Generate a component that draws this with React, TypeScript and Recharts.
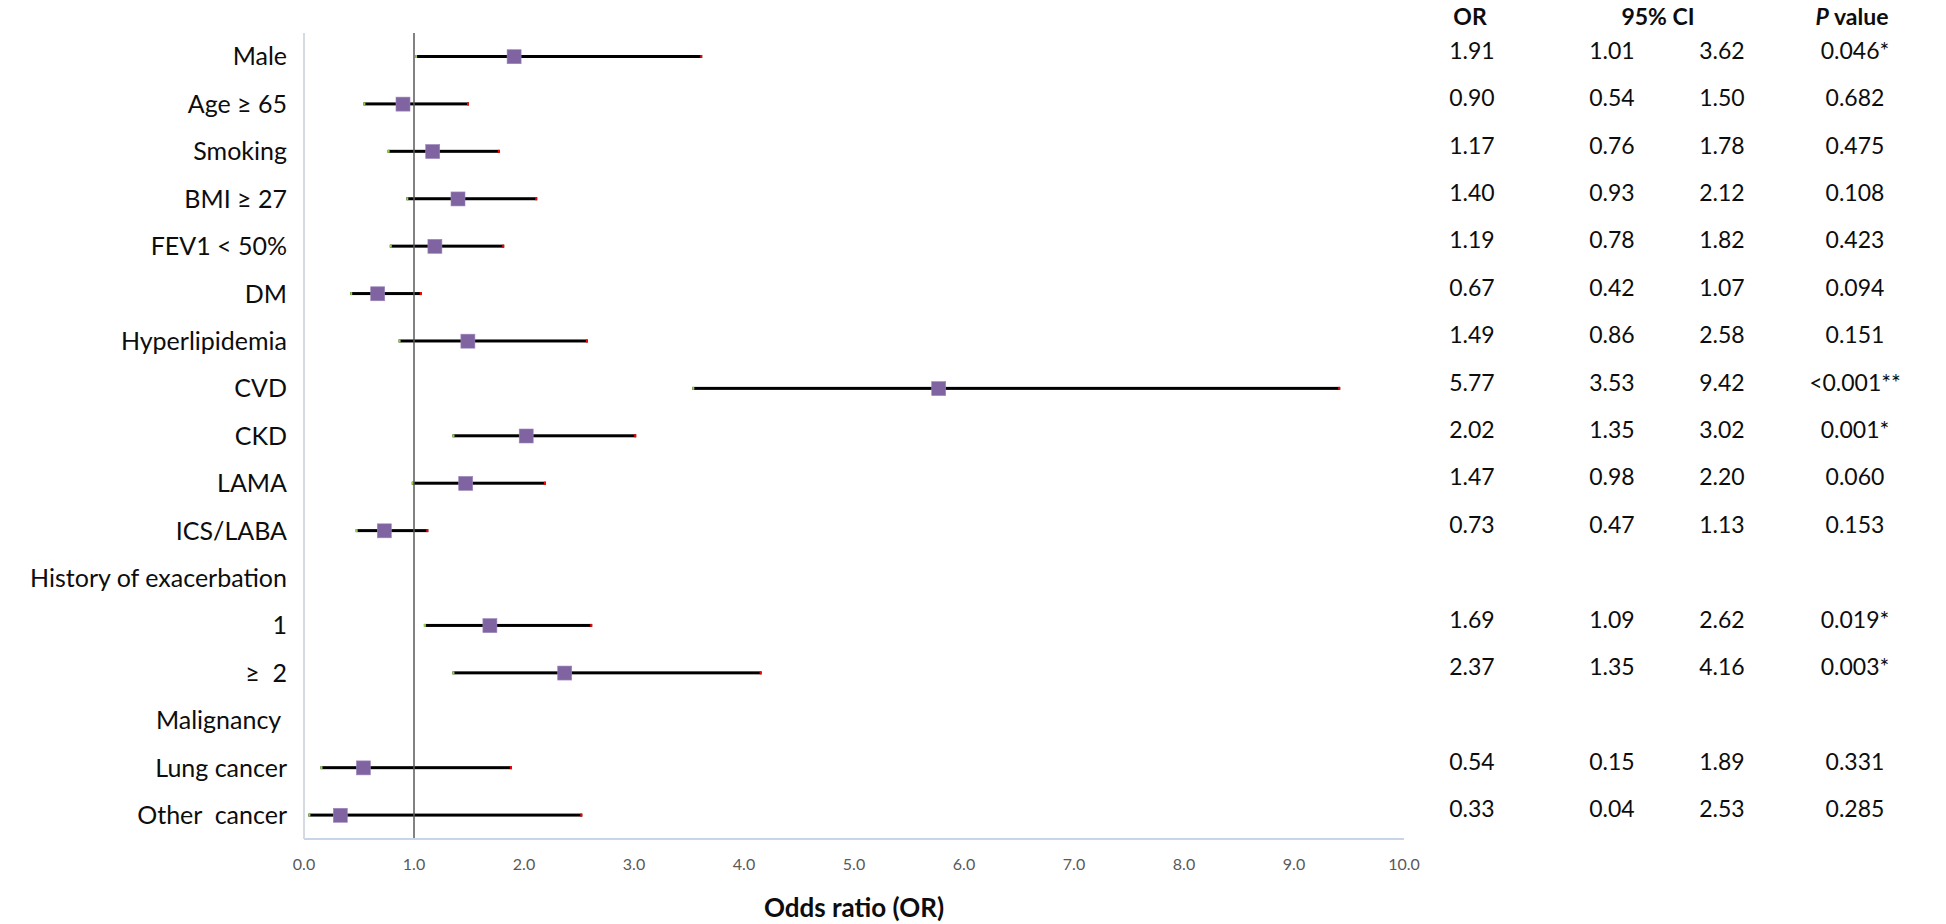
import React from "react";
import { Bar, ComposedChart, ReferenceLine, Scatter, XAxis, YAxis } from "recharts";

const FACTORS = [
  "Male",
  "Age ≥ 65",
  "Smoking",
  "BMI ≥ 27",
  "FEV1 < 50%",
  "DM",
  "Hyperlipidemia",
  "CVD",
  "CKD",
  "LAMA",
  "ICS/LABA",
  "History of exacerbation",
  "1",
  "≥  2",
  "Malignancy ",
  "Lung cancer",
  "Other  cancer",
];

const ODDS = [1.91, 0.9, 1.17, 1.4, 1.19, 0.67, 1.49, 5.77, 2.02, 1.47, 0.73, null, 1.69, 2.37, null, 0.54, 0.33];
const CI_LOW = [1.01, 0.54, 0.76, 0.93, 0.78, 0.42, 0.86, 3.53, 1.35, 0.98, 0.47, null, 1.09, 1.35, null, 0.15, 0.04];
const CI_HIGH = [3.62, 1.5, 1.78, 2.12, 1.82, 1.07, 2.58, 9.42, 3.02, 2.2, 1.13, null, 2.62, 4.16, null, 1.89, 2.53];
const P_VALUES = ["0.046*", "0.682", "0.475", "0.108", "0.423", "0.094", "0.151", "<0.001**", "0.001*", "0.060", "0.153", "", "0.019*", "0.003*", "", "0.331", "0.285"];

const X_TICKS = [0, 1, 2, 3, 4, 5, 6, 7, 8, 9, 10];

const FONT = "Lato, 'Open Sans', sans-serif";
const PURPLE = "#8064a2";

type Row = {
  name: string;
  or: number | null;
  ci: [number, number] | null;
  lo: number | null;
  hi: number | null;
  p: string;
};

const rows: Row[] = FACTORS.map((name, i) => ({
  name,
  or: ODDS[i],
  ci: CI_LOW[i] == null || CI_HIGH[i] == null ? null : [CI_LOW[i] as number, CI_HIGH[i] as number],
  lo: CI_LOW[i],
  hi: CI_HIGH[i],
  p: P_VALUES[i],
}));

function FactorTick({ x, y, payload }: any) {
  return (
    <text
      x={x}
      y={y}
      dy="0.35em"
      textAnchor="end"
      fontFamily={FONT}
      fontSize={25}
      fill="#0d0d0d"
      style={{ whiteSpace: "pre" }}
    >
      {payload.value}
    </text>
  );
}

// right-hand table, one row per category tick
function TableTick({ x, y, payload }: any) {
  const r = rows[FACTORS.indexOf(payload.value)];
  if (!r || r.or == null) return <g />;
  const ty = y - 6;
  return (
    <g fontFamily={FONT} fontSize={23} fill="#0d0d0d" textAnchor="middle">
      <text x={x + 68} y={ty} dy="0.35em">{r.or.toFixed(2)}</text>
      <text x={x + 208} y={ty} dy="0.35em">{(r.lo as number).toFixed(2)}</text>
      <text x={x + 318} y={ty} dy="0.35em">{(r.hi as number).toFixed(2)}</text>
      <text x={x + 451} y={ty} dy="0.35em">{r.p}</text>
    </g>
  );
}

function CiLine(props: any) {
  const { x, y, width, height, payload } = props;
  if (!payload || payload.ci == null || !(width > 0)) return <g />;
  return (
    <g>
      <rect x={x} y={y} width={width} height={height} fill="#000" />
      <rect x={x} y={y} width={2} height={height} fill="#92d050" />
      <rect x={x + width - 2} y={y} width={2} height={height} fill="#ff0000" />
    </g>
  );
}

function OddsMarker(props: any) {
  const { cx, cy, payload } = props;
  if (!payload || payload.or == null || !Number.isFinite(cx)) return <g />;
  return <rect x={cx - 7} y={cy - 7} width={14} height={14} fill={PURPLE} stroke="#9c86bb" strokeWidth={0.6} />;
}

export default function App() {
  return (
    <div style={{ position: "absolute", left: 0, top: 0, width: 1946, height: 924, background: "#fff" }}>
      <ComposedChart
        width={1946}
        height={924}
        data={rows}
        layout="vertical"
        margin={{ top: 33, right: 0, bottom: 0, left: 0 }}
      >
        <XAxis
          type="number"
          domain={[0, 10]}
          ticks={X_TICKS}
          tickFormatter={(v: number) => v.toFixed(1)}
          height={85}
          tickSize={0}
          tickMargin={20}
          tick={{ fill: "#595959", fontSize: 16, fontFamily: FONT }}
          axisLine={{ stroke: "#c8d5e6", strokeWidth: 2 }}
          label={{
            value: "Odds ratio (OR)",
            position: "insideBottom",
            offset: 7,
            fill: "#0d0d0d",
            fontSize: 26,
            fontWeight: 700,
            fontFamily: FONT,
          }}
        />
        <XAxis
          xAxisId="frame"
          orientation="top"
          type="number"
          domain={[0, 10]}
          height={0}
          tick={false}
          tickLine={false}
          axisLine={{ stroke: "#d9d9d9", strokeWidth: 2 }}
        />
        <YAxis
          type="category"
          dataKey="name"
          width={304}
          interval={0}
          tickSize={0}
          tickMargin={17}
          tick={<FactorTick />}
          axisLine={{ stroke: "#d5dbe3", strokeWidth: 2 }}
        />
        <YAxis
          yAxisId="table"
          orientation="right"
          type="category"
          dataKey="name"
          width={542}
          interval={0}
          tickSize={0}
          tickMargin={0}
          tick={<TableTick />}
          axisLine={false}
        />
        <ReferenceLine x={1} stroke="#595959" strokeWidth={1.5} />
        <Bar dataKey="ci" barSize={3} shape={<CiLine />} isAnimationActive={false} />
        <Scatter dataKey="or" shape={<OddsMarker />} isAnimationActive={false} />
      </ComposedChart>
      <svg
        width={1946}
        height={40}
        style={{ position: "absolute", left: 0, top: 0 }}
        fontFamily={FONT}
        fontSize={23}
        fontWeight={700}
        fill="#0d0d0d"
        textAnchor="middle"
      >
        <text x={1470} y={25}>OR</text>
        <text x={1658} y={25}>95% CI</text>
        <text x={1852} y={25}>
          <tspan fontStyle="italic">P</tspan> value
        </text>
      </svg>
    </div>
  );
}
